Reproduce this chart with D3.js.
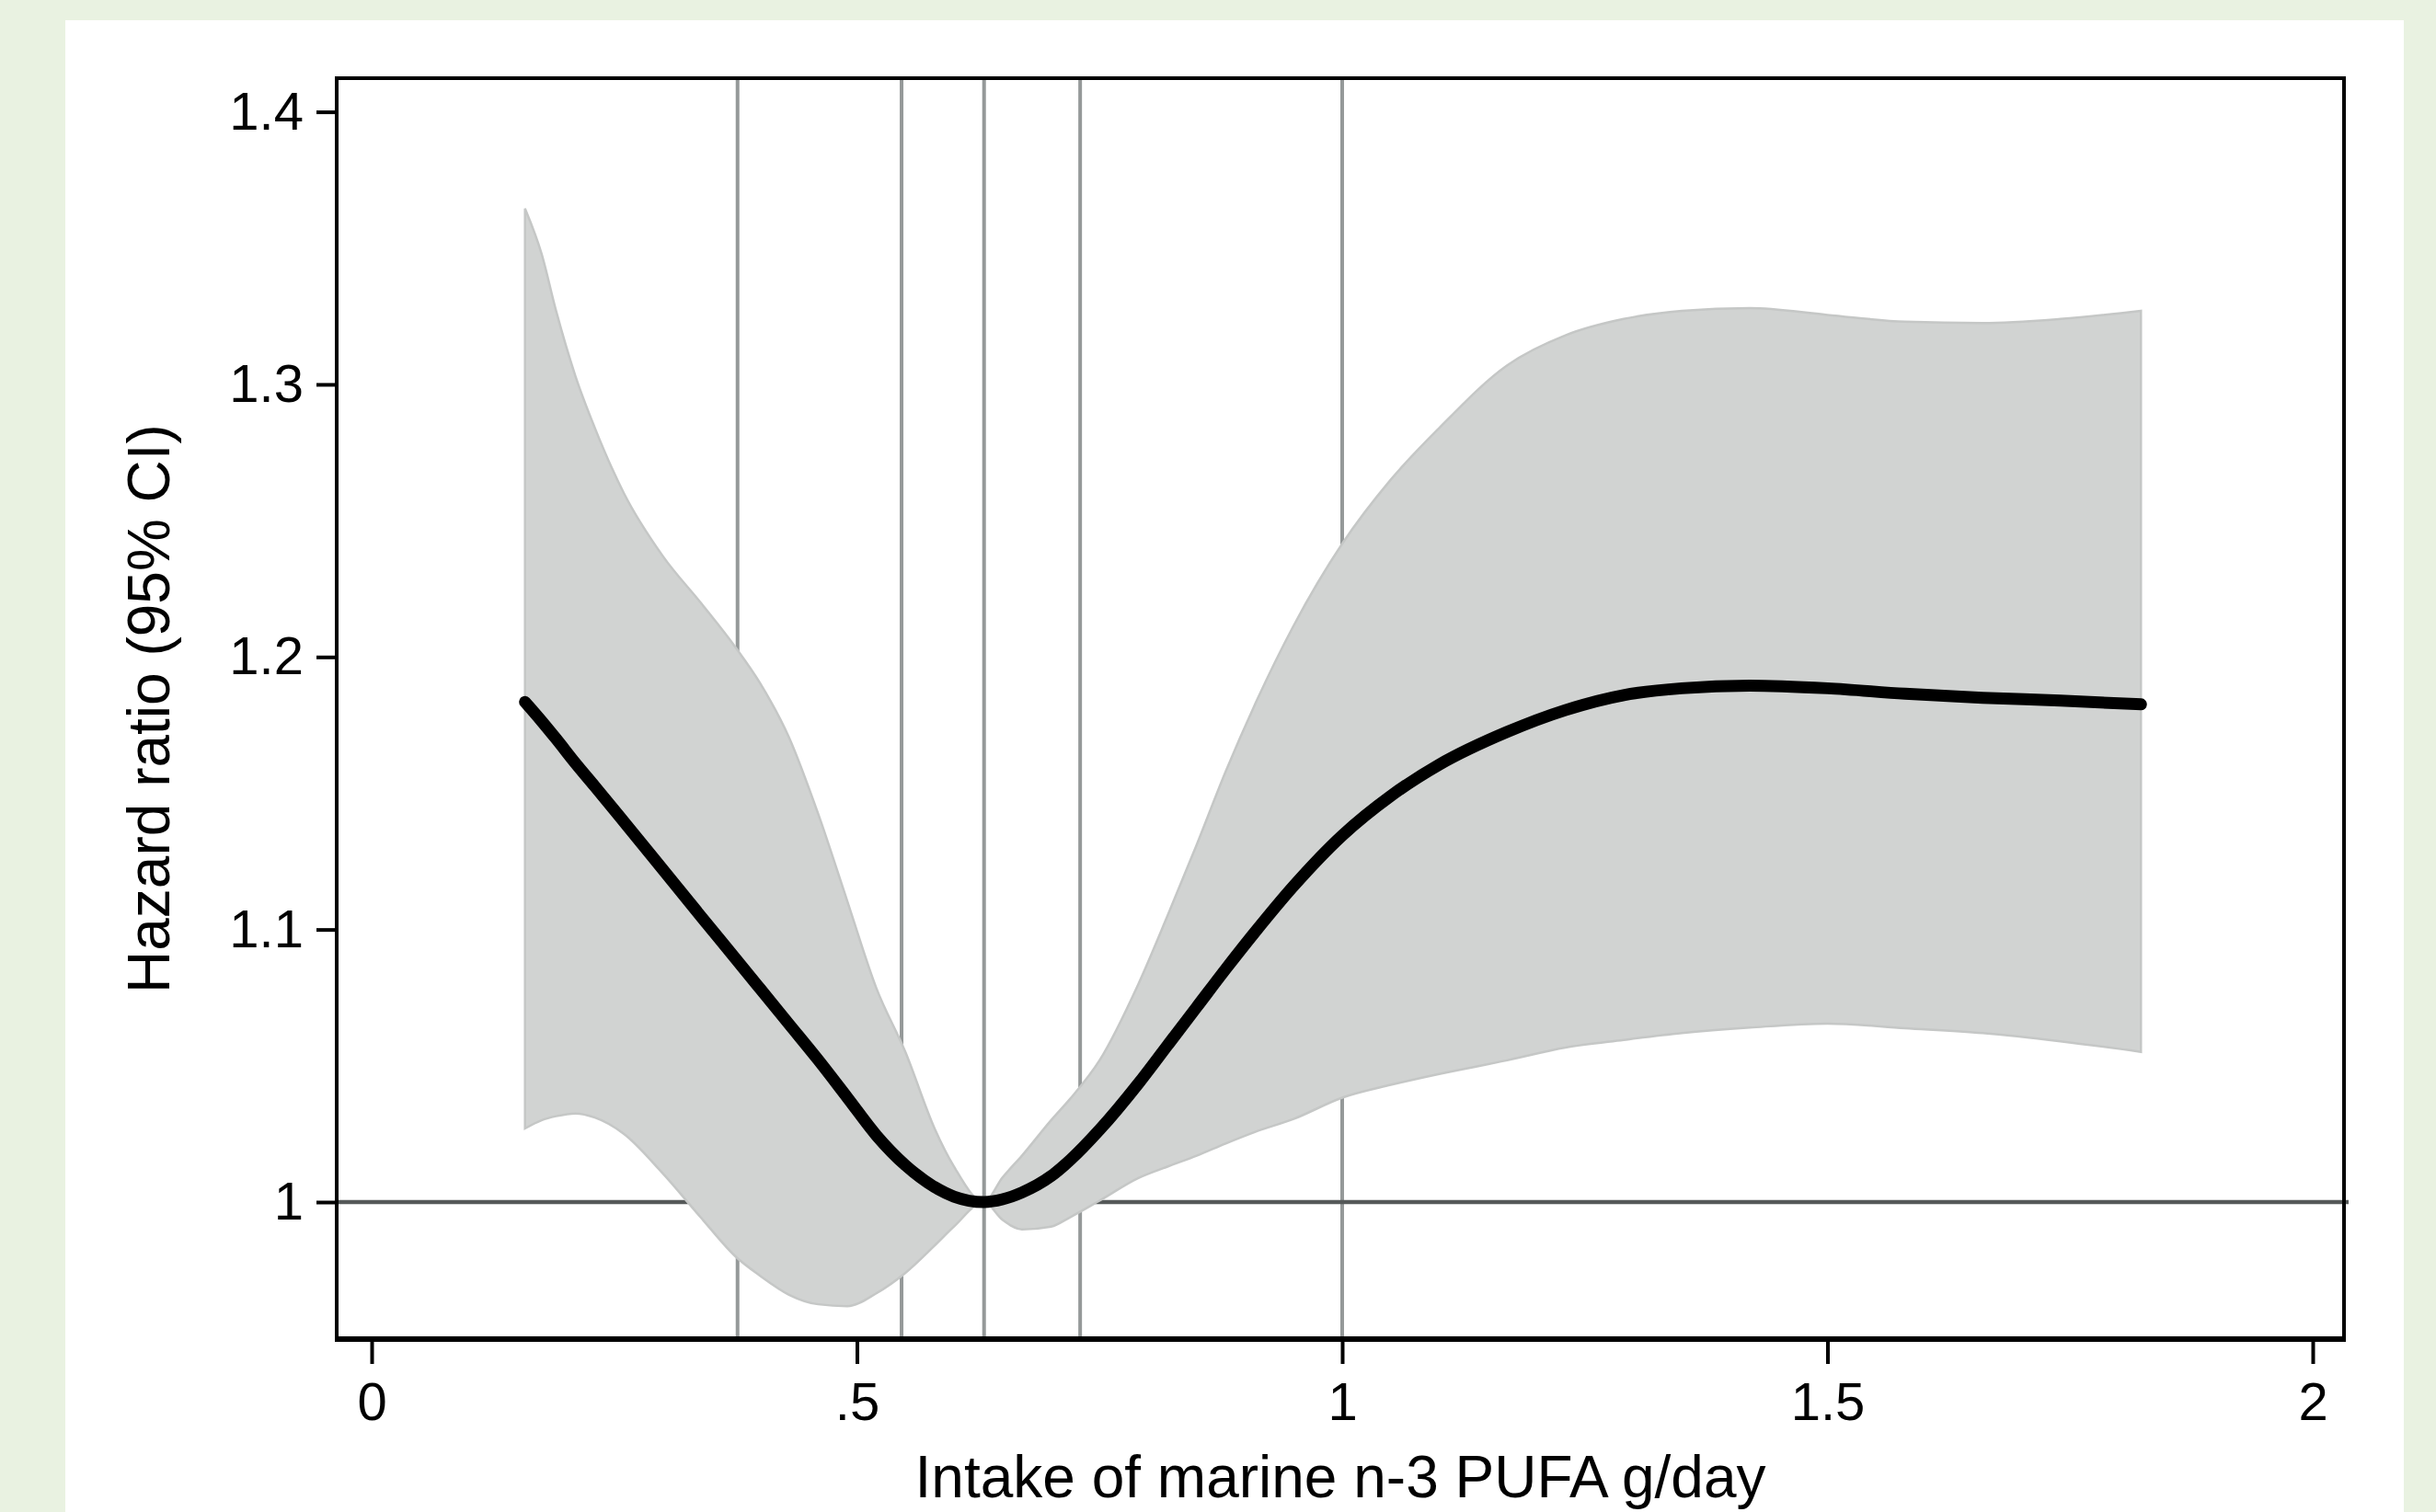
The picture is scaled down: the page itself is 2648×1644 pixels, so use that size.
<!DOCTYPE html>
<html>
<head>
<meta charset="utf-8">
<script src="https://cdn.jsdelivr.net/npm/d3@7"></script>
<style>
  body { margin: 0; background: #e9f2e1; }
  svg { display: block; }
</style>
</head>
<body>
<div id="chart"></div>
<script>
// intake of marine n-3 PUFA (g/day) at which the spline was read
const intake = [0.158, 0.175, 0.19, 0.21, 0.23, 0.26, 0.30, 0.34, 0.375, 0.40, 0.43, 0.46, 0.49, 0.52, 0.55,
  0.58, 0.60, 0.631, 0.65, 0.67, 0.70, 0.72, 0.75, 0.79, 0.82, 0.85, 0.88, 0.91, 0.95, 1.00, 1.05, 1.10,
  1.17, 1.23, 1.29, 1.35, 1.42, 1.50, 1.58, 1.66, 1.74, 1.823]

// hazard ratio and its 95% CI
const hazardRatio = [1.1835, 1.1765, 1.170, 1.161, 1.1525, 1.1395, 1.122, 1.1045, 1.0893, 1.0784, 1.0653,
  1.0522, 1.0384, 1.0245, 1.0135, 1.0055, 1.002, 1.000, 1.001, 1.0035, 1.0095, 1.0155, 1.0265, 1.0435, 1.0575,
  1.0715, 1.0855, 1.099, 1.116, 1.1345, 1.149, 1.1605, 1.1725, 1.1805, 1.186, 1.1885, 1.1895, 1.1885, 1.1865,
  1.185, 1.184, 1.1826]
const ciUpper = [1.3645, 1.348, 1.327, 1.303, 1.284, 1.260, 1.237, 1.2195, 1.2035, 1.1905, 1.1705, 1.1425,
  1.1105, 1.0785, 1.055, 1.027, 1.013, 1.000, 1.009, 1.017, 1.030, 1.038, 1.052, 1.080, 1.105, 1.131, 1.158,
  1.1825, 1.2115, 1.2415, 1.265, 1.284, 1.307, 1.318, 1.324, 1.327, 1.328, 1.3255, 1.323, 1.3225, 1.324, 1.327]
const ciLower = [1.027, 1.030, 1.0315, 1.0325, 1.031, 1.025, 1.0105, 0.994, 0.980, 0.973, 0.966, 0.9625,
  0.9618, 0.9665, 0.974, 0.984, 0.991, 1.000, 0.9935, 0.990, 0.991, 0.9945, 1.0005, 1.0088, 1.013, 1.017,
  1.0215, 1.0257, 1.0305, 1.0383, 1.043, 1.047, 1.052, 1.0567, 1.0595, 1.062, 1.064, 1.0655, 1.0638,
  1.062, 1.059, 1.0551]

// reference lines at the category cut points
const cutPoints = [0.377, 0.546, 0.631, 0.730, 1.0]

const xTicks = [0, 0.5, 1, 1.5, 2]
const xTickLabels = ['0', '.5', '1', '1.5', '2']
const yTicks = [1, 1.1, 1.2, 1.3, 1.4]
const yTickLabels = ['1', '1.1', '1.2', '1.3', '1.4']

const width = 2648
const height = 1644
const frame = { left: 366, right: 2548, top: 85, bottom: 1456 }

const svg = d3.select('#chart').append('svg').attr('width', width).attr('height', height)

// page background and white panel
svg.append('rect').attr('width', width).attr('height', height).attr('fill', '#e9f2e1')
svg.append('rect').attr('x', 71).attr('y', 22).attr('width', 2542).attr('height', height - 22).attr('fill', '#ffffff')

const x = d3.scaleLinear().domain([0, 2]).range([404, 2514])
const y = d3.scaleLinear().domain([1, 1.4]).range([1307, 121.6])

// vertical reference lines
svg.selectAll('line.cut')
  .data(cutPoints)
  .enter()
  .append('line')
  .attr('class', 'cut')
  .attr('x1', d => x(d))
  .attr('x2', d => x(d))
  .attr('y1', frame.top)
  .attr('y2', frame.bottom)
  .attr('stroke', '#959999')
  .attr('stroke-width', 4)

// HR = 1 line
svg.append('line')
  .attr('x1', frame.left)
  .attr('x2', frame.right + 5)
  .attr('y1', y(1))
  .attr('y2', y(1))
  .attr('stroke', '#555959')
  .attr('stroke-width', 4.5)

// confidence band
const band = d3.area()
  .x((d, i) => x(intake[i]))
  .y0((d, i) => y(ciLower[i]))
  .y1((d, i) => y(ciUpper[i]))
  .curve(d3.curveMonotoneX)

svg.append('path')
  .attr('d', band(intake))
  .attr('fill', '#d1d3d2')
  .attr('stroke', '#c5c7c6')
  .attr('stroke-width', 2.5)

// fitted curve
const fit = d3.line()
  .x((d, i) => x(intake[i]))
  .y(d => y(d))
  .curve(d3.curveMonotoneX)

svg.append('path')
  .attr('d', fit(hazardRatio))
  .attr('fill', 'none')
  .attr('stroke', '#000000')
  .attr('stroke-width', 13)
  .attr('stroke-linecap', 'round')
  .attr('stroke-linejoin', 'round')

// plot frame
svg.append('rect')
  .attr('x', frame.left)
  .attr('y', frame.top)
  .attr('width', frame.right - frame.left)
  .attr('height', frame.bottom - frame.top)
  .attr('fill', 'none')
  .attr('stroke', '#000000')
  .attr('stroke-width', 4)

svg.append('line')
  .attr('x1', frame.left - 2)
  .attr('x2', frame.right + 2)
  .attr('y1', frame.bottom)
  .attr('y2', frame.bottom)
  .attr('stroke', '#000000')
  .attr('stroke-width', 6)

// axes
const yAxis = d3.axisLeft(y)
  .tickValues(yTicks)
  .tickFormat((d, i) => yTickLabels[i])
  .tickSize(22)
  .tickSizeOuter(0)
  .tickPadding(14)

const xAxis = d3.axisBottom(x)
  .tickValues(xTicks)
  .tickFormat((d, i) => xTickLabels[i])
  .tickSize(27)
  .tickSizeOuter(0)
  .tickPadding(20)

const gy = svg.append('g').attr('transform', `translate(${frame.left},0)`).call(yAxis)
const gx = svg.append('g').attr('transform', `translate(0,${frame.bottom})`).call(xAxis)

for (const g of [gx, gy]) {
  g.select('.domain').remove()
  g.selectAll('.tick line').attr('stroke', '#000000').attr('stroke-width', 4)
  g.selectAll('.tick text')
    .attr('fill', '#000000')
    .attr('font-family', '"Liberation Sans", Arial, sans-serif')
    .attr('font-size', '58px')
}

// axis titles
svg.append('text')
  .attr('x', (frame.left + frame.right) / 2)
  .attr('y', 1628)
  .attr('text-anchor', 'middle')
  .attr('font-family', '"Liberation Sans", Arial, sans-serif')
  .attr('font-size', '64px')
  .attr('fill', '#000000')
  .text('Intake of marine n-3 PUFA g/day')

svg.append('text')
  .attr('transform', `translate(184,${(frame.top + frame.bottom) / 2}) rotate(-90)`)
  .attr('text-anchor', 'middle')
  .attr('font-family', '"Liberation Sans", Arial, sans-serif')
  .attr('font-size', '64px')
  .attr('fill', '#000000')
  .text('Hazard ratio (95% CI)')
</script>
</body>
</html>
